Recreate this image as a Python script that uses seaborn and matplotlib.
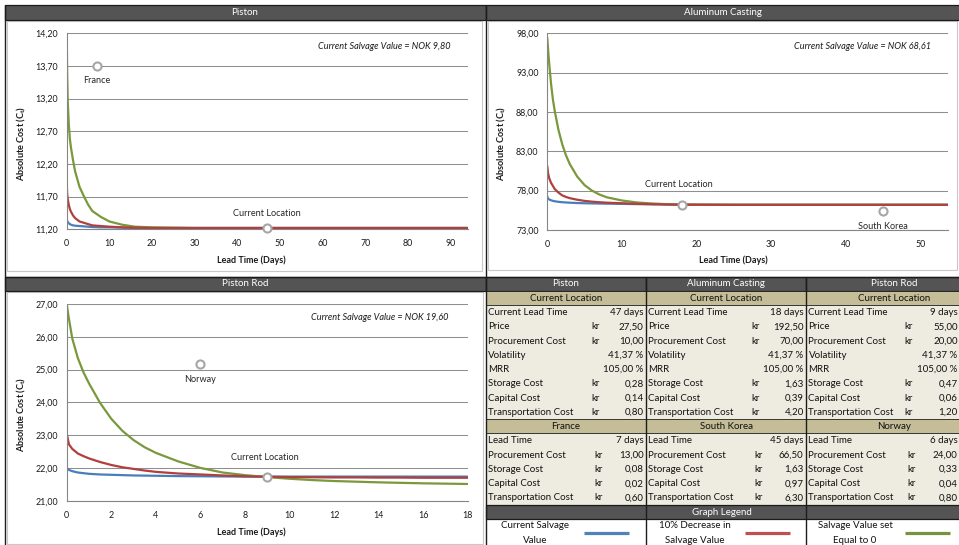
import matplotlib
matplotlib.use("Agg")
import matplotlib.pyplot as plt
from matplotlib.patches import Rectangle
import pandas as pd
import seaborn as sns

# ---------------------------------------------------------------- data
parts = ["Piston", "Aluminum Casting", "Piston Rod"]
alt_locations = ["France", "South Korea", "Norway"]
series_names = ["Current Salvage Value", "10% Decrease in Salvage Value",
                "Salvage Value set Equal to 0"]
legend_lines = [("Current Salvage", "Value"), ("10% Decrease in", "Salvage Value"),
                ("Salvage Value set", "Equal to 0")]
salvage_values = [9.80, 68.61, 19.60]

# current location
current_lead_time = [47, 18, 9]
price = [27.50, 192.50, 55.00]
procurement_cost = [10.00, 70.00, 20.00]
volatility = [41.37, 41.37, 41.37]
mrr = [105.00, 105.00, 105.00]
storage_cost = [0.28, 1.63, 0.47]
capital_cost = [0.14, 0.39, 0.06]
transport_cost = [0.80, 4.20, 1.20]

# alternative supplier location
alt_lead_time = [7, 45, 6]
alt_procurement_cost = [13.00, 66.50, 24.00]
alt_storage_cost = [0.08, 1.63, 0.33]
alt_capital_cost = [0.02, 0.97, 0.04]
alt_transport_cost = [0.60, 6.30, 0.80]

# absolute cost curves vs. lead time
piston_days = [0, 0.1, 0.25, 0.5, 0.75, 1, 1.5, 2, 3, 4, 5, 6, 8, 10, 13, 16, 20, 25, 30, 47, 70, 94]
piston_current = [11.37, 11.33, 11.31, 11.29, 11.28, 11.27, 11.26, 11.255, 11.25, 11.245, 11.24,
                  11.235, 11.23, 11.23, 11.225, 11.22, 11.22, 11.22, 11.22, 11.22, 11.22, 11.22]
piston_decrease = [11.93, 11.75, 11.66, 11.57, 11.51, 11.47, 11.41, 11.37, 11.32, 11.30, 11.28,
                   11.26, 11.25, 11.24, 11.23, 11.225, 11.22, 11.22, 11.22, 11.22, 11.22, 11.22]
piston_zero = [14.20, 13.60, 13.15, 12.80, 12.58, 12.45, 12.25, 12.08, 11.85, 11.71, 11.58,
               11.48, 11.39, 11.32, 11.27, 11.24, 11.23, 11.225, 11.22, 11.22, 11.22, 11.22]

casting_days = [0, 0.1, 0.25, 0.5, 0.75, 1, 1.5, 2, 2.5, 3, 4, 5, 6, 7, 8, 10, 12, 14, 16, 18,
                25, 35, 45, 54]
casting_current = [77.25, 77.00, 76.88, 76.78, 76.70, 76.65, 76.58, 76.53, 76.50, 76.47, 76.43,
                   76.40, 76.38, 76.36, 76.35, 76.32, 76.29, 76.27, 76.24, 76.22, 76.20, 76.20,
                   76.20, 76.20]
casting_decrease = [81.10, 80.20, 79.60, 79.00, 78.60, 78.20, 77.75, 77.40, 77.20, 77.05, 76.85,
                    76.70, 76.60, 76.53, 76.47, 76.40, 76.33, 76.28, 76.25, 76.22, 76.20, 76.20,
                    76.20, 76.20]
casting_zero = [97.40, 96.00, 94.20, 91.60, 89.60, 88.10, 85.70, 83.90, 82.50, 81.40, 79.80,
                78.70, 78.00, 77.50, 77.15, 76.75, 76.50, 76.37, 76.28, 76.22, 76.20, 76.20,
                76.20, 76.20]

rod_days = [0, 0.1, 0.25, 0.5, 0.75, 1, 1.5, 2, 2.5, 3, 3.5, 4, 5, 6, 7, 8, 9, 10, 11, 12, 13,
            14, 15, 16, 17, 18]
rod_current = [22.00, 21.94, 21.90, 21.86, 21.84, 21.82, 21.80, 21.79, 21.78, 21.77, 21.765,
               21.76, 21.75, 21.745, 21.74, 21.735, 21.735, 21.735, 21.735, 21.735, 21.735,
               21.735, 21.735, 21.735, 21.735, 21.735]
rod_decrease = [23.05, 22.72, 22.58, 22.44, 22.36, 22.29, 22.18, 22.09, 22.02, 21.97, 21.92,
                21.88, 21.83, 21.80, 21.77, 21.745, 21.73, 21.72, 21.715, 21.71, 21.71, 21.705,
                21.705, 21.70, 21.70, 21.70]
rod_zero = [27.00, 26.55, 25.95, 25.35, 24.92, 24.58, 23.98, 23.50, 23.13, 22.85, 22.63, 22.46,
            22.20, 22.00, 21.86, 21.78, 21.72, 21.67, 21.63, 21.60, 21.58, 21.56, 21.545, 21.53,
            21.52, 21.51]

# axis ticks
piston_xticks = [0, 10, 20, 30, 40, 50, 60, 70, 80, 90]
piston_yticks = [11.20, 11.70, 12.20, 12.70, 13.20, 13.70, 14.20]
casting_xticks = [0, 10, 20, 30, 40, 50]
casting_yticks = [73.00, 78.00, 83.00, 88.00, 93.00, 98.00]
rod_xticks = [0, 2, 4, 6, 8, 10, 12, 14, 16, 18]
rod_yticks = [21.00, 22.00, 23.00, 24.00, 25.00, 26.00, 27.00]

# ---------------------------------------------------------------- style
sns.set_theme(style="white")
plt.rcParams["font.family"] = ["Lato", "DejaVu Sans"]
plt.rcParams["mathtext.fontset"] = "custom"
plt.rcParams["mathtext.rm"] = "Lato"
plt.rcParams["mathtext.bf"] = "Lato:bold"

LINE_COLORS = {series_names[0]: "#4a7ebb", series_names[1]: "#b0403d", series_names[2]: "#7a983c"}
SWATCH_COLORS = ["#4f81bd", "#c0504d", "#77933c"]
DARK = "#545454"
TAN = "#c4bd97"
BEIGE = "#eeece1"
EDGE = "#1c1c1c"
AXIS_GRAY = "#868686"
GRID_GRAY = "#8f8f8f"
MARK_GRAY = "#a6a6a6"


def comma(v, nd=2):
    return f"{v:.{nd}f}".replace(".", ",")


W, H = 959, 545
fig = plt.figure(figsize=(W / 100, H / 100), dpi=100)
fig.patch.set_facecolor("white")

bg = fig.add_axes([0, 0, 1, 1], zorder=0)
bg.set_xlim(0, W)
bg.set_ylim(H, 0)
bg.axis("off")


def px_rect(left, top, right, bottom):
    return [left / W, 1 - bottom / H, (right - left) / W, (bottom - top) / H]


def box(x0, y0, x1, y1, fc, ec="none", lw=0.0, z=1):
    bg.add_patch(Rectangle((x0, y0), x1 - x0, y1 - y0, facecolor=fc,
                           edgecolor=ec, linewidth=lw, zorder=z))


# ---------------------------------------------------------------- chart panels
panel_frames = [
    # header box, chart area, header text centre
    ((5, 5, 485.5, 19.5), (7, 20.5, 482, 271), 245),
    ((485.5, 5, 962, 19.5), (487.5, 20.5, 956.5, 270), 723),
    ((5, 276.5, 485.5, 290.8), (7, 292, 483, 543.5), 245),
]
for name, (hdr, area, cx) in zip(parts, panel_frames):
    box(*hdr, fc=DARK, ec=EDGE, lw=0.9, z=2)
    bg.text(cx, (hdr[1] + hdr[3]) / 2 + 0.3, name, color="white", fontsize=7,
            ha="center", va="center", zorder=3)
    box(*area, fc="white", ec="#c8c8c8", lw=0.8, z=1)

# outer dividing lines
for xs, ys in [((5, 5), (5, 545)), ((485.5, 485.5), (5, 545)), ((5, 959), (276.5, 276.5))]:
    bg.plot(xs, ys, color=EDGE, lw=1.0, zorder=4, solid_capstyle="butt")


def draw_chart(i, rect, days, cur, dec, zero, xticks, yticks, xmax,
               note_xy, xlab_xy, ylab_xy, cur_off, alt_off):
    ax = fig.add_axes(px_rect(*rect), zorder=2)
    ax.set_facecolor("none")
    df = pd.DataFrame({
        "day": list(days) * 3,
        "cost": list(cur) + list(dec) + list(zero),
        "series": [series_names[0]] * len(days) + [series_names[1]] * len(days)
                  + [series_names[2]] * len(days),
    })
    sns.lineplot(data=df, x="day", y="cost", hue="series",
                 hue_order=[series_names[0], series_names[2], series_names[1]],
                 palette=LINE_COLORS, linewidth=1.6, legend=False, errorbar=None,
                 estimator=None, sort=False, ax=ax)

    cur_cost = procurement_cost[i] + storage_cost[i] + capital_cost[i] + transport_cost[i]
    alt_cost = (alt_procurement_cost[i] + alt_storage_cost[i] + alt_capital_cost[i]
                + alt_transport_cost[i])
    pts = pd.DataFrame({"day": [current_lead_time[i], alt_lead_time[i]],
                        "cost": [cur_cost, alt_cost]})
    sns.scatterplot(data=pts, x="day", y="cost", marker="o", s=34, color="white",
                    edgecolor=MARK_GRAY, linewidth=1.5, zorder=6, ax=ax, clip_on=False)
    ax.annotate("Current Location", (current_lead_time[i], cur_cost), xytext=cur_off,
                textcoords="offset points", ha="center", va="center", fontsize=6.6,
                color="#262626")
    ax.annotate(alt_locations[i], (alt_lead_time[i], alt_cost), xytext=alt_off,
                textcoords="offset points", ha="center", va="center", fontsize=6.6,
                color="#262626")
    ax.text(*note_xy, f"Current Salvage Value = NOK {comma(salvage_values[i])}",
            transform=ax.transAxes, ha="right", va="center", fontsize=6.6,
            style="italic", color="#1a1a1a")

    ax.set_xlim(0, xmax)
    ax.set_ylim(yticks[0], yticks[-1])
    ax.set_xticks(xticks)
    ax.set_xticklabels([str(t) for t in xticks])
    ax.set_yticks(yticks)
    ax.set_yticklabels([comma(t) for t in yticks])
    ax.yaxis.grid(True, color=GRID_GRAY, linewidth=0.75)
    ax.xaxis.grid(False)
    ax.set_axisbelow(True)
    for side in ("top", "right"):
        ax.spines[side].set_visible(False)
    for side in ("left", "bottom"):
        ax.spines[side].set_color(AXIS_GRAY)
        ax.spines[side].set_linewidth(0.8)
    ax.tick_params(axis="both", direction="out", length=2.8, width=0.7, color=AXIS_GRAY,
                   labelsize=6.4, labelcolor="#1a1a1a", pad=3.5)
    ax.tick_params(axis="x", pad=4.5)
    ax.set_xlabel("Lead Time (Days)", fontsize=6.5, fontweight="bold", color="#1a1a1a")
    ax.set_ylabel(r"Absolute Cost (C$_\mathbf{t}$)", fontsize=6.6, fontweight="bold",
                  color="#1a1a1a")
    ax.xaxis.set_label_coords(*xlab_xy)
    ax.yaxis.set_label_coords(*ylab_xy)
    return ax


draw_chart(0, (66.7, 33.3, 468, 229.3), piston_days, piston_current, piston_decrease,
           piston_zero, piston_xticks, piston_yticks, 94.1,
           (0.957, 0.932), (0.461, -0.136), (-0.096, 0.44), (0, 10.5), (0, -10.8))
draw_chart(1, (547.3, 33.3, 948, 230), casting_days, casting_current, casting_decrease,
           casting_zero, casting_xticks, casting_yticks, 53.7,
           (0.958, 0.935), (0.464, -0.132), (-0.098, 0.44), (-2.2, 14.2), (0, -10.8))
draw_chart(2, (66.7, 304, 467.7, 500.7), rod_days, rod_current, rod_decrease,
           rod_zero, rod_xticks, rod_yticks, 18,
           (0.951, 0.932), (0.461, -0.136), (-0.096, 0.436), (-1.7, 13.9), (0, -11.3))

# ---------------------------------------------------------------- data table
ROW_H = 14.27
TOP = 276.5
col_left = [486, 646, 806]
col_right = [645.5, 805.5, 990]
col_center = [566, 726, 894]
label_x = [488.3, 647.8, 808.5]
kr_x = [591, 751, 904]
value_x = [643.6, 803.6, 957.5]
FS = 7.05


def row_y(r):
    return TOP + r * ROW_H


current_labels = ["Current Lead Time", "Price", "Procurement Cost", "Volatility", "MRR",
                  "Storage Cost", "Capital Cost", "Transportation Cost"]
alt_labels = ["Lead Time", "Procurement Cost", "Storage Cost", "Capital Cost",
              "Transportation Cost"]

for c in range(3):
    x0, x1 = col_left[c], col_right[c]
    # part header
    box(x0, row_y(0), x1, row_y(1), DARK, EDGE, 0.9, z=2)
    bg.text(col_center[c], (row_y(0) + row_y(1)) / 2 + 0.3, parts[c], color="white",
            fontsize=FS, ha="center", va="center", zorder=3)
    # current location band
    box(x0, row_y(1), x1, row_y(2), TAN, EDGE, 0.6, z=2)
    bg.text(col_center[c], (row_y(1) + row_y(2)) / 2 + 0.3, "Current Location",
            fontsize=FS, ha="center", va="center", color="#111111", zorder=3)
    box(x0, row_y(2), x1, row_y(10), BEIGE, z=1)
    cur_vals = [(None, f"{current_lead_time[c]} days"),
                ("kr", comma(price[c])),
                ("kr", comma(procurement_cost[c])),
                (None, f"{comma(volatility[c])} %"),
                (None, f"{comma(mrr[c])} %"),
                ("kr", comma(storage_cost[c])),
                ("kr", comma(capital_cost[c])),
                ("kr", comma(transport_cost[c]))]
    for k, (lab, (unit, val)) in enumerate(zip(current_labels, cur_vals)):
        yc = (row_y(2 + k) + row_y(3 + k)) / 2 + 0.3
        bg.text(label_x[c], yc, lab, fontsize=FS, ha="left", va="center", color="#111111", zorder=3)
        if unit:
            bg.text(kr_x[c], yc, unit, fontsize=FS, ha="left", va="center", color="#111111", zorder=3)
        bg.text(value_x[c], yc, val, fontsize=FS, ha="right", va="center", color="#111111", zorder=3)
    # alternative location band
    box(x0, row_y(10), x1, row_y(11), TAN, EDGE, 0.6, z=2)
    bg.text(col_center[c], (row_y(10) + row_y(11)) / 2 + 0.3, alt_locations[c],
            fontsize=FS, ha="center", va="center", color="#111111", zorder=3)
    box(x0, row_y(11), x1, row_y(16), BEIGE, z=1)
    alt_vals = [(None, f"{alt_lead_time[c]} days"),
                ("kr", comma(alt_procurement_cost[c])),
                ("kr", comma(alt_storage_cost[c])),
                ("kr", comma(alt_capital_cost[c])),
                ("kr", comma(alt_transport_cost[c]))]
    for k, (lab, (unit, val)) in enumerate(zip(alt_labels, alt_vals)):
        yc = (row_y(11 + k) + row_y(12 + k)) / 2 + 0.3
        bg.text(label_x[c], yc, lab, fontsize=FS, ha="left", va="center", color="#111111", zorder=3)
        if unit:
            bg.text(kr_x[c] + 3, yc, unit, fontsize=FS, ha="left", va="center", color="#111111", zorder=3)
        bg.text(value_x[c], yc, val, fontsize=FS, ha="right", va="center", color="#111111", zorder=3)

# graph legend
box(486, row_y(16), 990, row_y(17), DARK, EDGE, 0.9, z=2)
bg.text(722, (row_y(16) + row_y(17)) / 2 + 0.3, "Graph Legend", color="white", fontsize=FS,
        ha="center", va="center", zorder=3)
legend_text_x = [535, 695, 855]
swatch_x = [(584, 629), (745, 790), (905, 950)]
for c in range(3):
    bg.text(legend_text_x[c], 525.7, legend_lines[c][0], fontsize=FS, ha="center",
            va="center", color="#111111", zorder=3)
    bg.text(legend_text_x[c], 540.2, legend_lines[c][1], fontsize=FS, ha="center",
            va="center", color="#111111", zorder=3)
    bg.plot(swatch_x[c], (532.6, 532.6), color=SWATCH_COLORS[c], lw=2.3,
            solid_capstyle="butt", zorder=3)

for x in (645.5, 805.5):
    bg.plot((x, x), (TOP, 545), color=EDGE, lw=1.0, zorder=4, solid_capstyle="butt")

fig.savefig("out.png", dpi=100, facecolor="white")
